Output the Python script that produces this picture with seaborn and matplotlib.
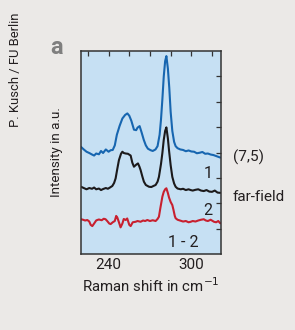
import matplotlib
matplotlib.use("Agg")
import matplotlib.pyplot as plt
import seaborn as sns
import pandas as pd
from matplotlib import font_manager

# ---------------- data ----------------
blue_x = [220, 222, 224, 226, 228, 229.5, 231, 233, 234.5, 236, 238, 240, 241.5, 243, 244.5, 246, 248, 250, 252,
          253.6, 255, 256.5, 258.4, 260, 261, 262.5, 264, 265.5, 267, 268.5, 270.5, 272, 274, 275.5, 277, 278, 279,
          280, 281, 281.9, 283, 284, 285, 286.2, 287.5, 288.6, 290, 292, 294, 296, 298, 300, 302, 304, 306, 308,
          310, 312, 314, 316, 318, 321]
blue_y = [4.22, 4.12, 4.03, 3.98, 3.92, 3.88, 3.96, 3.93, 4.06, 3.98, 4.12, 4.03, 4.09, 4.10, 4.28, 4.70, 5.05,
          5.34, 5.48, 5.54, 5.45, 5.25, 4.90, 4.88, 4.98, 5.04, 4.78, 4.50, 4.28, 4.15, 4.09, 4.06, 4.12, 4.25,
          4.70, 5.30, 6.10, 7.00, 7.60, 7.80, 7.30, 6.55, 5.60, 4.85, 4.42, 4.25, 4.17, 4.12, 4.10, 4.05, 4.08,
          4.04, 4.03, 3.97, 3.99, 4.02, 3.95, 3.96, 3.92, 3.90, 3.86, 3.80]

black_x = [220, 222, 224, 226, 228, 229.5, 231, 233, 234.5, 236, 238, 239.5, 241, 242.7, 244, 245.1, 246.3, 247.5,
           249, 250, 251, 252.4, 254, 256, 257.2, 258.4, 260, 261.3, 262.3, 263.2, 264.5, 265.6, 267, 269.3, 271,
           272.5, 274.1, 275.5, 276.5, 278, 279, 280, 281, 281.9, 283, 283.8, 285, 286.2, 287.5, 288.6, 290, 292.3,
           294, 296, 298, 299.5, 301, 303, 305, 307, 309, 311, 313, 315, 317, 319, 321]
black_y = [2.65, 2.60, 2.55, 2.60, 2.57, 2.62, 2.55, 2.58, 2.52, 2.56, 2.60, 2.57, 2.62, 2.68, 2.80, 2.98, 3.35,
           3.70, 3.95, 4.03, 3.98, 3.96, 3.95, 3.88, 3.60, 3.44, 3.52, 3.57, 3.45, 3.31, 3.05, 2.85, 2.72, 2.65,
           2.64, 2.68, 2.72, 2.85, 3.04, 3.55, 3.98, 4.50, 4.85, 4.99, 4.55, 4.09, 3.50, 3.04, 2.78, 2.65, 2.58,
           2.55, 2.57, 2.52, 2.55, 2.52, 2.50, 2.53, 2.55, 2.50, 2.48, 2.52, 2.46, 2.45, 2.50, 2.42, 2.41]

red_x = [220, 221.5, 223, 224.6, 226, 227, 228.2, 229.5, 231, 231.8, 233, 235, 236.5, 237.8, 239, 240.5, 241.5,
         243, 244.5, 245.5, 246.3, 247.2, 248.7, 250, 251, 252.4, 253.5, 255, 256, 257.5, 259.6, 261, 263.2, 265,
         266.5, 268.1, 270, 272, 274.1, 275.5, 276.5, 277.5, 279, 280, 281, 281.9, 283, 283.8, 285, 286.2, 287,
         288, 288.6, 290, 292.3, 294, 296, 298, 299.5, 301, 303, 305, 307, 309, 310.5, 312, 314, 316.4, 318,
         319.5, 321]
red_y = [1.37, 1.35, 1.32, 1.34, 1.28, 1.15, 1.10, 1.20, 1.32, 1.34, 1.36, 1.33, 1.39, 1.37, 1.30, 1.20, 1.18,
         1.25, 1.30, 1.50, 1.44, 1.30, 1.05, 1.20, 1.38, 1.34, 1.40, 1.15, 1.10, 1.25, 1.27, 1.30, 1.27, 1.32,
         1.30, 1.34, 1.30, 1.33, 1.30, 1.38, 1.47, 1.80, 2.26, 2.45, 2.55, 2.59, 2.40, 2.23, 2.05, 1.93, 1.75,
         1.50, 1.41, 1.35, 1.31, 1.28, 1.30, 1.25, 1.27, 1.30, 1.28, 1.32, 1.35, 1.37, 1.32, 1.30, 1.35, 1.27,
         1.25, 1.30, 1.21]

series_names = ["(7,5)", "far-field", "1 - 2"]
xtick_values = [225, 240, 255, 270, 285, 300, 315]
xtick_labels = ["", "240", "", "", "", "300", ""]
ytick_values = [1, 2, 3, 4, 5, 6, 7]

# ---------------- styling ----------------
names = {f.name for f in font_manager.fontManager.ttflist}
narrow = "Liberation Sans Narrow" if "Liberation Sans Narrow" in names else "Roboto"
sns.set_theme(style="white")
plt.rcParams["font.family"] = [narrow, "DejaVu Sans"]

txt = "#231f20"
bg = "#ebe9e7"
face = "#c6e0f3"
colors = {"(7,5)": "#1766b0", "far-field": "#1c1a1b", "1 - 2": "#c8202f"}

df = pd.concat([
    pd.DataFrame({"x": blue_x, "y": blue_y, "s": series_names[0]}),
    pd.DataFrame({"x": black_x, "y": black_y, "s": series_names[1]}),
    pd.DataFrame({"x": red_x, "y": red_y, "s": series_names[2]}),
], ignore_index=True)

fig = plt.figure(figsize=(2.95, 3.30), dpi=100, facecolor=bg)
ax = fig.add_axes([81 / 295, 1 - 254 / 330, 140 / 295, 203 / 330])
ax.set_facecolor(face)

sns.lineplot(data=df, x="x", y="y", hue="s", palette=colors, estimator=None, sort=False,
             linewidth=1.5, legend=False, ax=ax)

ax.set_xlim(220, 321.5)
ax.set_ylim(0, 8)
ax.set_xticks(xtick_values)
ax.set_xticklabels(xtick_labels)
ax.set_yticks(ytick_values)
ax.set_yticklabels([])
ax.tick_params(axis="both", direction="in", length=3.5, width=0.9, color="#333333",
               top=True, right=True, labelsize=11, labelcolor=txt, pad=3)
for sp in ax.spines.values():
    sp.set_linewidth(1.1)
    sp.set_color("#333333")

ax.set_xlabel("Raman shift in cm$^{-1}$", fontsize=10.8, color=txt, labelpad=3)
ax.set_ylabel("Intensity in a.u.", fontsize=9.6, color=txt, labelpad=10)

ax.text(311.9, 3.19, "1", fontsize=11.5, color=txt, ha="center", va="center")
ax.text(311.9, 1.73, "2", fontsize=11.5, color=txt, ha="center", va="center")
ax.text(294.4, 0.47, "1 - 2", fontsize=11.5, color=txt, ha="center", va="center")
ax.text(330, 3.82, series_names[0], fontsize=11, color=txt, ha="left", va="center", clip_on=False)
ax.text(330, 2.24, series_names[1], fontsize=11, color=txt, ha="left", va="center", clip_on=False)

fig.text(57 / 295, 1 - 47 / 330, "a", fontsize=17, fontweight="bold", color="#7f7f7f",
         ha="center", va="center")
fig.text(15 / 295, 1 - 70 / 330, "P. Kusch / FU Berlin", fontsize=9.4, color=txt, rotation=90,
         ha="center", va="center")

fig.savefig("out.png", dpi=100, facecolor=bg)
